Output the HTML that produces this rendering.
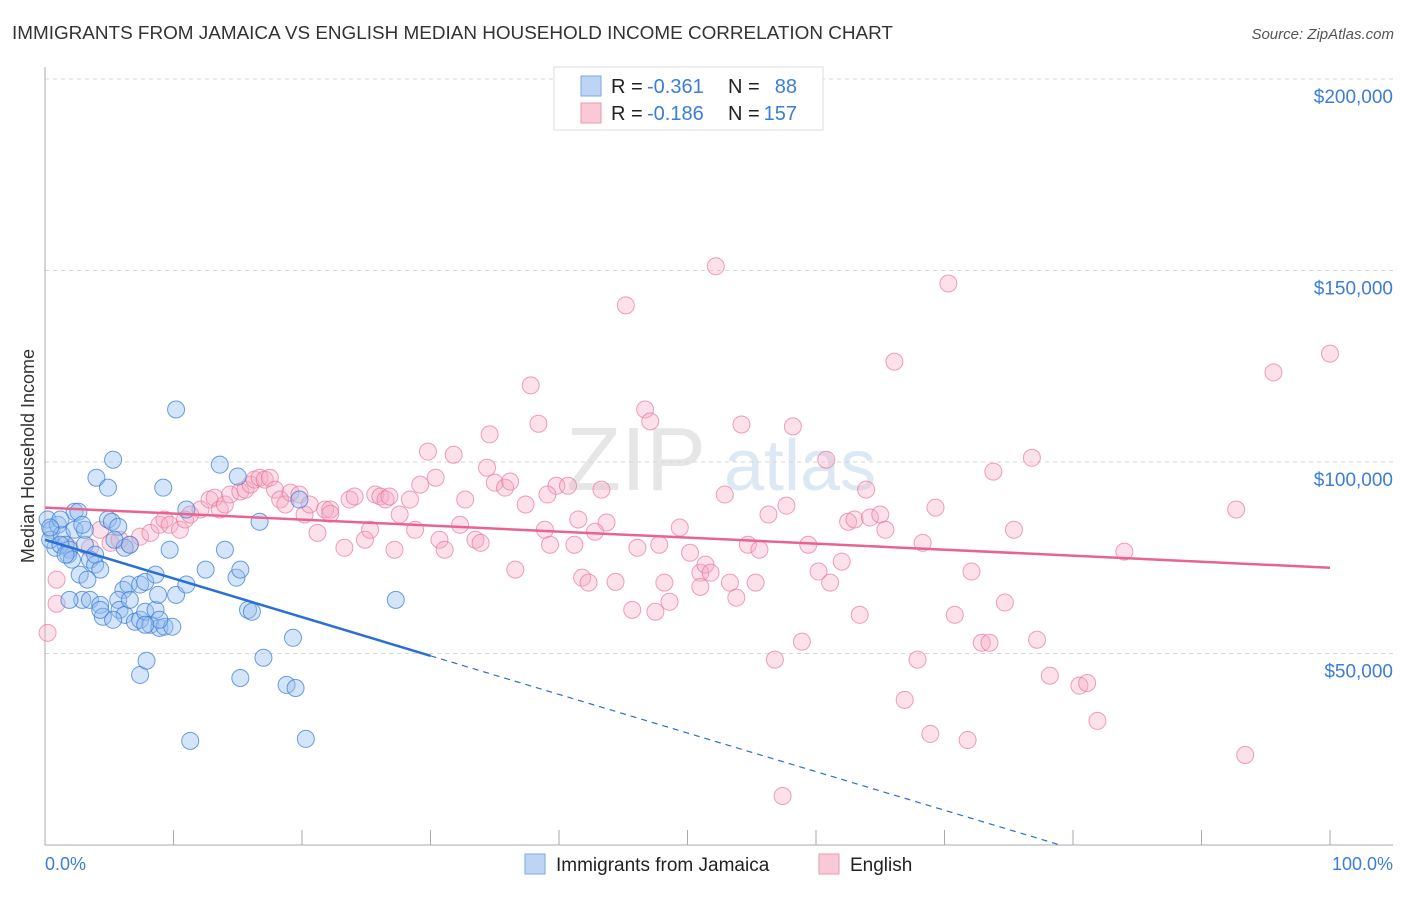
<!DOCTYPE html>
<html><head><meta charset="utf-8"><style>
body{margin:0;background:#fff;font-family:"Liberation Sans",sans-serif}
svg text{font-family:"Liberation Sans",sans-serif}
</style></head><body>
<svg id="c" width="1406" height="892">
<text x="12" y="39" font-size="18.9" fill="#333">IMMIGRANTS FROM JAMAICA VS ENGLISH MEDIAN HOUSEHOLD INCOME CORRELATION CHART</text>
<text x="1394" y="39" font-size="15" fill="#555" font-style="italic" text-anchor="end">Source: ZipAtlas.com</text>
<text x="636" y="490" font-size="90" fill="#e6e6e6" font-family="Liberation Serif" text-anchor="middle">ZIP</text>
<text x="800" y="490" font-size="72" fill="#dde8f5" text-anchor="middle">atlas</text>
<g id="grid"></g><g id="pts"></g><g id="trend"></g>
<text transform="translate(34,456) rotate(-90)" font-size="18" fill="#333" text-anchor="middle">Median Household Income</text>
<text x="45" y="870" font-size="18" fill="#3b7dd8">0.0%</text>
<text x="1393" y="870" font-size="18" fill="#3b7dd8" text-anchor="end">100.0%</text>
<g>
<rect x="554" y="67" width="269" height="63" fill="#fff" stroke="#ddd"/>
<rect x="581" y="76" width="20" height="20" fill="#bdd4f5" stroke="#7aa7e6"/>
<rect x="581" y="103" width="20" height="20" fill="#f9c9d7" stroke="#eb97b0"/>
<text x="611" y="93" font-size="20" fill="#222">R =</text>
<text x="647" y="93" font-size="20" fill="#3b7dd8">-0.361</text>
<text x="728" y="93" font-size="20" fill="#222">N =</text>
<text x="797" y="93" font-size="20" fill="#3b7dd8" text-anchor="end">88</text>
<text x="611" y="120" font-size="20" fill="#222">R =</text>
<text x="647" y="120" font-size="20" fill="#3b7dd8">-0.186</text>
<text x="728" y="120" font-size="20" fill="#222">N =</text>
<text x="797" y="120" font-size="20" fill="#3b7dd8" text-anchor="end">157</text>
</g>
<g>
<rect x="525" y="854" width="20" height="20" fill="#bdd4f5" stroke="#7aa7e6"/>
<text x="556" y="871" font-size="19" fill="#222">Immigrants from Jamaica</text>
<rect x="819" y="854" width="20" height="20" fill="#f9c9d7" stroke="#eb97b0"/>
<text x="850" y="871" font-size="19" fill="#222">English</text>
</g>
</svg>
<script>
const yTicks=[50000,100000,150000,200000];
const yTickLabels=["$50,000","$100,000","$150,000","$200,000"];
const blueX=[0.2,0.5,0.8,0.4,1.0,1.3,1.6,1.9,2.3,2.6,1.2,1.8,2.1,2.7,3.1,3.5,3.9,4.3,3.3,2.9,3.5,4.3,4.5,4.9,5.2,5.7,6.2,6.6,4.0,5.3,4.9,5.4,6.1,6.5,5.7,5.8,6.2,6.6,7.0,7.4,7.8,8.2,8.6,8.9,9.3,9.9,7.4,7.8,8.6,8.9,9.7,10.2,11.0,10.2,11.0,9.2,12.5,13.6,14.0,14.9,15.0,15.2,15.8,16.1,16.7,17.0,18.8,19.3,19.5,19.8,20.3,11.3,7.4,7.9,15.2,27.3,1.2,1.6,2.3,3.1,0.4,7.8,8.8,5.3,4.3,3.9,1.9,2.9];
const blueY=[85,82.3,77.6,79.7,83.6,81,78.4,77.1,87,87,78.4,75.8,74.5,70.6,78.4,74.5,73.2,71.9,69.3,64,64,62.7,59.6,85,84.4,83.1,77.6,78.4,95.9,100.6,93.3,79.7,66.6,68,64,61.4,60.1,64,58.3,58.8,60.9,57.5,61.4,56.7,57,57,68,68.7,70.6,58.8,77.1,65.3,68,113.7,87.6,93.3,71.9,99.3,77.1,69.8,96.2,71.9,61.4,60.9,84.4,48.9,41.8,54.1,41,90.2,27.7,27.2,44.4,48.1,43.6,64,85,75.8,82.3,82.3,82.9,57.5,65.3,58.8,61.4,75.8,64,83.6];
const pinkX=[0.2,0.9,0.9,1.9,3.5,4.3,5.1,5.8,6.6,7.4,8.2,8.9,9.3,9.7,10.5,10.9,11.3,12.1,12.8,13.2,13.6,14.0,14.4,15.2,15.6,16.0,16.3,16.7,17.1,17.5,17.9,18.3,18.7,19.1,19.8,20.2,20.6,21.2,21.8,22.2,23.3,23.7,24.1,24.9,25.3,25.7,26.1,26.5,26.8,27.2,27.6,28.4,28.8,29.2,29.8,30.4,30.7,31.1,31.8,32.3,32.7,33.5,33.9,34.4,34.6,35.0,35.8,36.2,36.6,37.4,37.8,38.4,38.9,39.3,39.8,40.7,41.2,41.5,41.8,42.3,43.3,43.7,44.4,45.2,45.7,46.1,46.7,47.1,47.5,47.8,48.2,48.6,49.4,50.2,51.0,51.4,51.8,52.2,52.9,53.3,53.8,54.2,54.7,55.3,55.6,56.3,56.8,57.7,58.2,58.9,59.4,60.2,60.8,61.1,62.0,62.5,63.0,63.4,63.9,64.2,65.0,65.4,66.1,66.9,67.9,68.3,68.9,69.3,70.3,70.8,71.8,72.1,72.9,73.5,73.8,74.7,75.4,76.8,77.2,78.2,80.5,81.1,81.9,84.0,92.7,93.4,95.6,100,57.4,51.0,39.1,22.2,42.8];
const pinkY=[55.4,63,69.3,77.6,77.6,82.3,78.9,79.7,78.4,80.5,81.5,83.6,85,83.6,82.3,85,86.3,87.6,90.2,90.7,87.6,88.9,91.5,92.3,92.8,94.1,95.4,95.9,95.4,95.9,92.8,90.2,88.9,92,91.5,86.3,88.9,81.5,87.6,87.6,77.6,90.2,91,79.7,82.3,91.5,91,90.2,91,77.1,86.3,90.2,82.3,94.1,102.7,95.9,79.7,77.1,101.9,83.6,90.2,79.7,78.9,98.5,107.2,94.6,93.3,94.9,71.9,88.9,120,110,82.3,78.4,93.8,93.8,78.4,85,69.8,68.5,92.8,84.2,68.7,140.9,61.4,77.6,113.7,110.6,60.9,78.4,68.5,63.5,82.9,76.3,71.1,73.2,71.1,151.1,91.5,68.5,64.6,109.8,78.4,68.5,77.1,86.3,48.4,88.6,109.3,53.1,78.4,71.4,100.6,68.5,74,84.4,85,60.1,92.8,85.5,86.3,82.3,126.2,37.9,48.4,78.9,29,88.1,146.6,60.1,27.4,71.4,52.8,52.8,97.5,63.3,82.3,101.1,53.6,44.2,41.6,42.3,32.4,76.6,87.6,23.5,123.4,128.3,12.8,67.4,91.5,86.5,81.8];
const blueTrend=[[0,79.7],[30,49.4],[79,0]];
const pinkTrend=[[0,88.1],[100,72.4]];
const NS='http://www.w3.org/2000/svg';
const xS=p=>45+p*12.85;
const yS=v=>845-v/200000*766;
function mk(t,a,p){const e=document.createElementNS(NS,t);for(const k in a)e.setAttribute(k,a[k]);p.appendChild(e);return e;}
const grid=document.getElementById('grid');
yTicks.forEach((v,i)=>{
 const l=mk('line',{x1:45,x2:1393,y1:yS(v),y2:yS(v),stroke:'#d6d6d6','stroke-dasharray':'4,4'},grid);
 
 
 const t=mk('text',{x:1393,y:yS(v)+24,'font-size':19,fill:'#3b7dd8','text-anchor':'end'},grid);
 t.textContent=yTickLabels[i];
 
 
});
const ax=mk('line',{x1:45,x2:45,y1:67,y2:845,stroke:'#aaa'},grid);


const bx=mk('line',{x1:45,x2:1393,y1:845,y2:845,stroke:'#aaa'},grid);


for(let i=0;i<=10;i++){const tk=mk('line',{x1:xS(i*10),x2:xS(i*10),y1:830,y2:845,stroke:'#aaa'},grid);
 
 }
const pts=document.getElementById('pts');
pinkX.forEach((x,i)=>{const c=mk('circle',{cx:xS(x),cy:yS(pinkY[i]*1000),r:8.5,fill:'rgba(246,170,194,0.35)',stroke:'rgba(232,120,155,0.7)','stroke-width':1},pts);
 
 });
blueX.forEach((x,i)=>{const c=mk('circle',{cx:xS(x),cy:yS(blueY[i]*1000),r:8.5,fill:'rgba(150,190,240,0.4)',stroke:'rgba(60,125,215,0.75)','stroke-width':1},pts);
 
 });
const tr=document.getElementById('trend');
const b1=mk('line',{x1:xS(blueTrend[0][0]),y1:yS(blueTrend[0][1]*1000),x2:xS(blueTrend[1][0]),y2:yS(blueTrend[1][1]*1000),stroke:'#2a6fd6','stroke-width':2.5},tr);


const b2=mk('line',{x1:xS(blueTrend[1][0]),y1:yS(blueTrend[1][1]*1000),x2:xS(blueTrend[2][0]),y2:yS(blueTrend[2][1]*1000),stroke:'#2a6fd6','stroke-width':1.2,'stroke-dasharray':'6,5'},tr);


const p1=mk('line',{x1:xS(pinkTrend[0][0]),y1:yS(pinkTrend[0][1]*1000),x2:xS(pinkTrend[1][0]),y2:yS(pinkTrend[1][1]*1000),stroke:'#e8648e','stroke-width':2.5},tr);


</script>
</body></html>
